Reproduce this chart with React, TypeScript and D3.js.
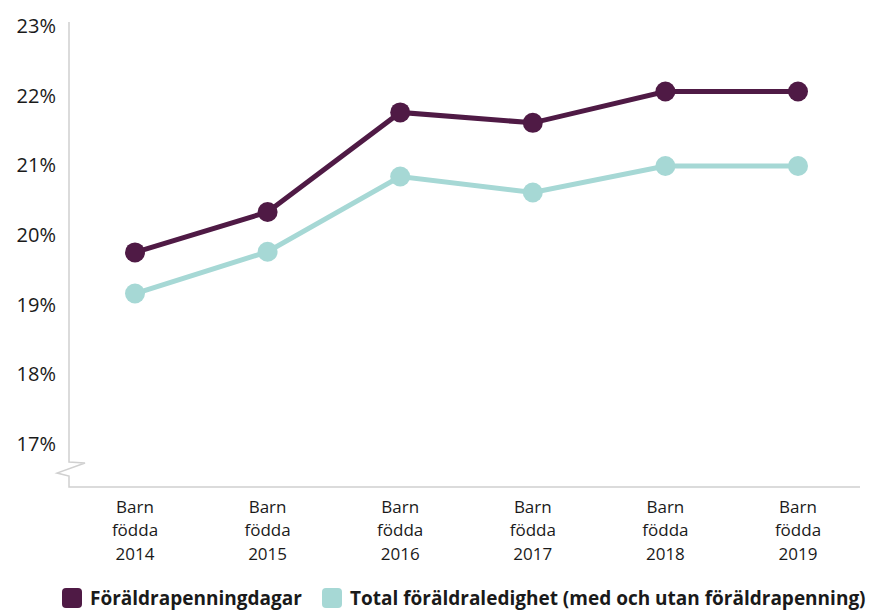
import React from "react";
import * as d3 from "d3";

const categories = ["2014", "2015", "2016", "2017", "2018", "2019"];
const foraldrapenningdagar = [19.75, 20.33, 21.76, 21.61, 22.06, 22.06];
const totalLedighet = [19.16, 19.76, 20.84, 20.61, 20.99, 20.99];
const yTicks = [17, 18, 19, 20, 21, 22, 23];
const seriesNames = ["Föräldrapenningdagar", "Total föräldraledighet (med och utan föräldrapenning)"];
const colors = ["#4f1a45", "#a6d8d5"];

const W = 875;
const H = 612;
const FONT = "'Open Sans', 'Noto Sans', sans-serif";

export default function App() {
  const x = d3.scalePoint<string>().domain(categories).range([135, 798]);
  const y = d3.scaleLinear().domain([17, 23]).range([444, 26]);
  const line = d3
    .line<number>()
    .x((_, i) => x(categories[i]) as number)
    .y((d) => y(d));
  const axisX = 69;
  const axisBottom = 487;
  const series = [foraldrapenningdagar, totalLedighet];

  const axisPath = `M${axisX},22 L${axisX},462 L${axisX + 16},463 L${axisX - 12},473 L${axisX},476 L${axisX},${axisBottom} L860,${axisBottom}`;

  return (
    <svg width={W} height={H} style={{ position: "absolute", left: 0, top: 0, background: "#fff" }} fontFamily={FONT}>
      <path d={axisPath} fill="none" stroke="#d0d0d0" strokeWidth={1.5} />
      {yTicks.map((t) => (
        <text key={t} x={56} y={y(t)} dy="0.35em" textAnchor="end" fontSize={20} fill="#1a1a1a">
          {t}%
        </text>
      ))}
      {categories.map((c) => (
        <text key={c} x={x(c)} textAnchor="middle" fontSize={17} fill="#1a1a1a">
          <tspan x={x(c)} y={513}>Barn</tspan>
          <tspan x={x(c)} y={536}>födda</tspan>
          <tspan x={x(c)} y={560}>{c}</tspan>
        </text>
      ))}
      {series.map((s, si) => (
        <g key={si}>
          <path d={line(s) || ""} fill="none" stroke={colors[si]} strokeWidth={5} />
          {s.map((v, i) => (
            <circle key={i} cx={x(categories[i])} cy={y(v)} r={10} fill={colors[si]} />
          ))}
        </g>
      ))}
      <g>
        <rect x={62} y={588} width={20} height={20} rx={4} fill={colors[0]} />
        <text x={90} y={605} fontSize={19} fontWeight="bold" fill="#1a1a1a">{seriesNames[0]}</text>
        <rect x={322} y={588} width={20} height={20} rx={4} fill={colors[1]} />
        <text x={350} y={605} fontSize={19} fontWeight="bold" fill="#1a1a1a">{seriesNames[1]}</text>
      </g>
    </svg>
  );
}
